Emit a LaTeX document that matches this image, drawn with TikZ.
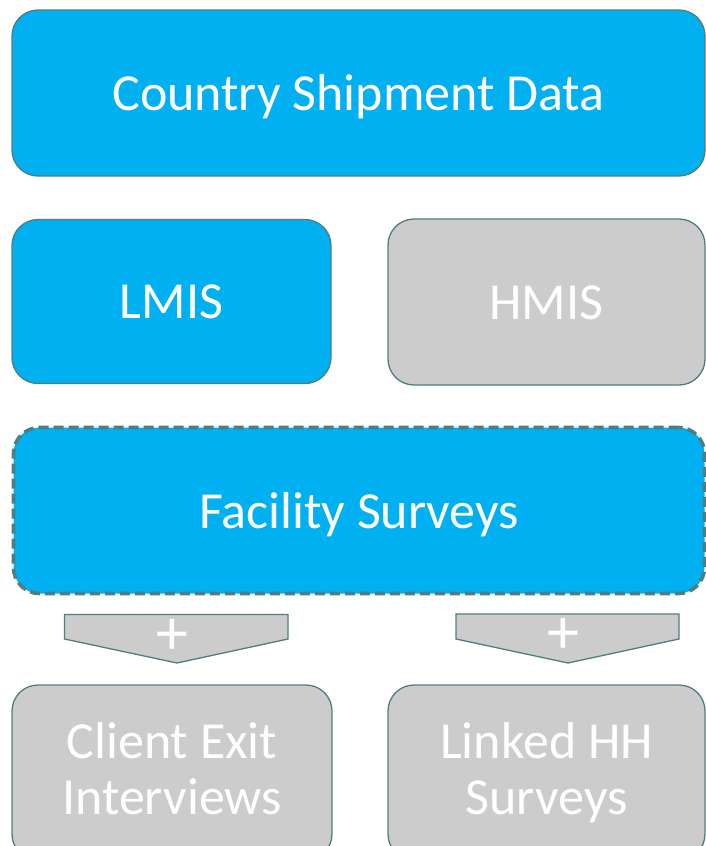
\documentclass[tikz,border=0pt]{standalone}
\usepackage{fontspec}
\setmainfont{Carlito}
\definecolor{cblue}{HTML}{00B0F0}
\definecolor{cgray}{HTML}{CCCCCC}
\definecolor{cedge}{HTML}{4E7E80}
\tikzset{
  box/.style={draw=cedge, line width=1.3pt, rounded corners=26pt, inner sep=0pt, align=center, text=white, font=\fontsize{52}{56}\selectfont},
  bluebox/.style={box, fill=cblue},
  graybox/.style={box, fill=cgray},
  dashbox/.style={box, fill=cblue, dashed, dash pattern=on 10pt off 5pt, line width=3.6pt, draw=cedge},
  chev/.style={draw=cedge, line width=1.3pt, fill=cgray},
  plus/.style={text=white, font=\fontsize{64}{64}\selectfont, inner sep=0pt},
  lbl/.style={text=white, font=\fontsize{52}{56}\selectfont, inner sep=0pt, align=center}
}
\begin{document}
\begin{tikzpicture}[x=1pt,y=-1pt]
\useasboundingbox (0,0) rectangle (706,846);
\begin{scope}
\clip (0,0) rectangle (706,846);
\node[bluebox, minimum width=693pt, minimum height=166pt] (csd) at (358.5,93) {};
\node[bluebox, minimum width=319pt, minimum height=164pt] (lmis) at (171.5,301.5) {};
\node[graybox, minimum width=317pt, minimum height=166pt] (hmis) at (546.5,302) {};
\node[dashbox, minimum width=691pt, minimum height=166pt] (fac) at (359,510.5) {};
\node[graybox, minimum width=320pt, minimum height=175pt] (cei) at (172,772.5) {};
\node[graybox, minimum width=317pt, minimum height=175pt] (hh) at (546.5,772.5) {};
\end{scope}
\node[lbl, yshift=-6pt] (t1) at (csd.center) {\strut Country Shipment Data};
\node[lbl, yshift=-6pt] (t2) at (lmis.center) {\strut LMIS};
\node[lbl, yshift=-6pt] (t3) at (hmis.center) {\strut HMIS};
\node[lbl, yshift=-7pt] (t4) at (fac.center) {\strut Facility Surveys};
\node[lbl] (t5) at (172,775) {\strut Client Exit\\\strut Interviews};
\node[lbl] (t6) at (546.5,775) {\strut Linked HH\\\strut Surveys};
\coordinate (a1) at (64.5,614.5);
\coordinate (a2) at (456,614);
\draw[chev] (a1) -- ++(223.5,0) -- ++(0,24.5) -- (177,663) -- (64.5,639) -- cycle;
\draw[chev] (a2) -- ++(223,0) -- ++(0,25) -- (568,663) -- (456,639) -- cycle;
\node[plus] (p1) at (172,637) {+};
\node[plus] (p2) at (563,636) {+};
\end{tikzpicture}
\end{document}
